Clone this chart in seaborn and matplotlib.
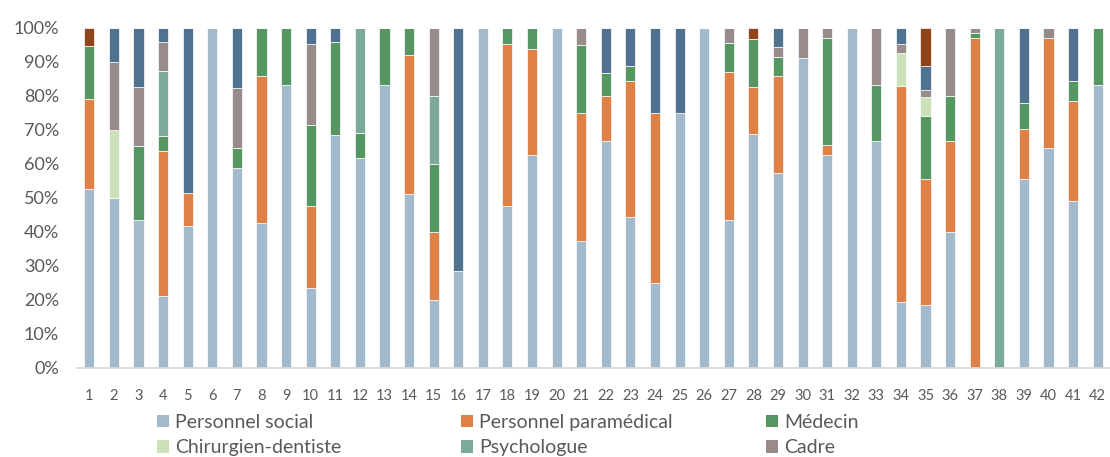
import pandas as pd
import numpy as np
import matplotlib
matplotlib.use("Agg")
import matplotlib.pyplot as plt
from matplotlib.patches import Patch
from matplotlib.ticker import PercentFormatter
import seaborn as sns

# structures 1..42
structures = list(range(1, 43))

# parts (%), bottom to top
social = [52.5, 50.0, 43.4, 21.2, 41.7, 100, 58.8, 42.7, 83.3, 23.6, 68.5, 61.6, 83.3, 51.0,
          20.0, 28.5, 100, 47.6, 62.5, 100, 37.5, 66.6, 44.4, 25.0, 75.0, 100, 43.5, 68.9,
          57.2, 91.0, 62.5, 100, 66.6, 19.4, 18.4, 40.1, 0, 0, 55.5, 64.6, 49.0, 83.3]
paramedical = [26.5, 0, 0, 42.5, 9.8, 0, 0, 43.0, 0, 24.0, 0, 0, 0, 40.9,
               20.0, 0, 0, 47.7, 31.2, 0, 37.5, 13.4, 40.1, 50.0, 0, 0, 43.6, 13.8,
               28.5, 0, 3.1, 0, 0, 63.4, 37.1, 26.6, 97.1, 0, 14.9, 32.3, 29.4, 0]
medecin = [15.7, 0, 21.8, 4.4, 0, 0, 5.9, 14.3, 16.7, 23.8, 27.4, 7.6, 16.7, 8.1,
           20.0, 0, 0, 4.7, 6.3, 0, 20.1, 6.8, 4.3, 0, 0, 0, 8.5, 13.9,
           5.7, 0, 31.4, 0, 16.7, 0, 18.5, 13.3, 1.4, 0, 7.4, 0, 5.9, 16.7]
dentiste = [0, 20.0, 0, 0, 0, 0, 0, 0, 0, 0, 0, 0, 0, 0,
            0, 0, 0, 0, 0, 0, 0, 0, 0, 0, 0, 0, 0, 0,
            0, 0, 0, 0, 0, 9.8, 5.6, 0, 0, 0, 0, 0, 0, 0]
psychologue = [0, 0, 0, 19.2, 0, 0, 0, 0, 0, 0, 0, 30.8, 0, 0,
               20.0, 0, 0, 0, 0, 0, 0, 0, 0, 0, 0, 0, 0, 0,
               0, 0, 0, 0, 0, 0, 0, 0, 0, 100, 0, 0, 0, 0]
cadre = [0, 20.0, 17.4, 8.6, 0, 0, 17.7, 0, 0, 23.9, 0, 0, 0, 0,
         20.0, 0, 0, 0, 0, 0, 5.0, 0, 0, 0, 0, 0, 4.4, 0,
         3.0, 9.0, 3.0, 0, 16.7, 2.6, 2.0, 20.0, 1.5, 0, 0, 3.1, 0, 0]
administratif = [0, 10.0, 17.4, 4.1, 48.5, 0, 17.6, 0, 0, 4.7, 4.1, 0, 0, 0,
                 0, 71.5, 0, 0, 0, 0, 0, 13.2, 11.2, 25.0, 25.0, 0, 0, 0,
                 5.6, 0, 0, 0, 0, 4.8, 7.3, 0, 0, 0, 22.2, 0, 15.7, 0]
autre = [5.3, 0, 0, 0, 0, 0, 0, 0, 0, 0, 0, 0, 0, 0,
         0, 0, 0, 0, 0, 0, 0, 0, 0, 0, 0, 0, 0, 3.4,
         0, 0, 0, 0, 0, 0, 11.1, 0, 0, 0, 0, 0, 0, 0]

categories = ["Personnel social", "Personnel paramédical", "Médecin", "Chirurgien-dentiste",
              "Psychologue", "Cadre", "Personnel administratif", "Autre"]
series = [social, paramedical, medecin, dentiste, psychologue, cadre, administratif, autre]
colors = ["#A3B9CC", "#DF8046", "#559663", "#CDE1B9", "#7BA99A", "#978C8A", "#4E728F", "#8F4519"]

rows = []
for cat, vals in zip(categories, series):
    for s, v in zip(structures, vals):
        rows.append({"structure": s, "categorie": cat, "part": v})
df = pd.DataFrame(rows)

sns.set_theme(style="white")
plt.rcParams['font.family'] = ['Lato', 'DejaVu Sans']

fig = plt.figure(figsize=(11.1, 4.57), dpi=100)
ax = fig.add_axes([0.0694, 0.195, 0.9306, 0.744])

# seaborn stacks the first hue level on top, so pass the order reversed
sns.histplot(data=df, x="structure", hue="categorie", weights="part", multiple="fill",
             discrete=True, shrink=0.41, hue_order=categories[::-1],
             palette=dict(zip(categories, colors)), alpha=1, edgecolor="white",
             linewidth=0.5, legend=False, ax=ax)

ax.set_xlim(0.5, 42.5)
ax.set_ylim(0, 1)
ax.set_xticks(structures)
ax.set_yticks(np.arange(0, 1.01, 0.1))
ax.yaxis.set_major_formatter(PercentFormatter(1.0, decimals=0))
ax.set_xlabel("")
ax.set_ylabel("")
ax.tick_params(axis="both", length=0, labelcolor="#595959")
ax.tick_params(axis="x", labelsize=10.5, pad=15)
ax.tick_params(axis="y", labelsize=13, pad=13)
for side in ["top", "right", "left"]:
    ax.spines[side].set_visible(False)
ax.spines["bottom"].set_color("#D9D9D9")
ax.spines["bottom"].set_linewidth(1.3)
ax.grid(False)

# legend laid out row by row in three columns (Excel style); only two rows fit in the picture
handles = [Patch(facecolor=c, edgecolor="none") for c in colors]
col_x = [157, 461, 766]
for j, x0 in enumerate(col_x):
    idx = [j, j + 3]
    leg = fig.legend([handles[i] for i in idx], [categories[i] for i in idx],
                     loc="upper left", bbox_to_anchor=(x0 / 1110, 0.094),
                     frameon=False, fontsize=14, handlelength=0.62, handleheight=0.62,
                     handletextpad=0.3, labelspacing=0.42, borderpad=0, borderaxespad=0)
    for t in leg.get_texts():
        t.set_color("#595959")

fig.savefig("out.png", dpi=100)
